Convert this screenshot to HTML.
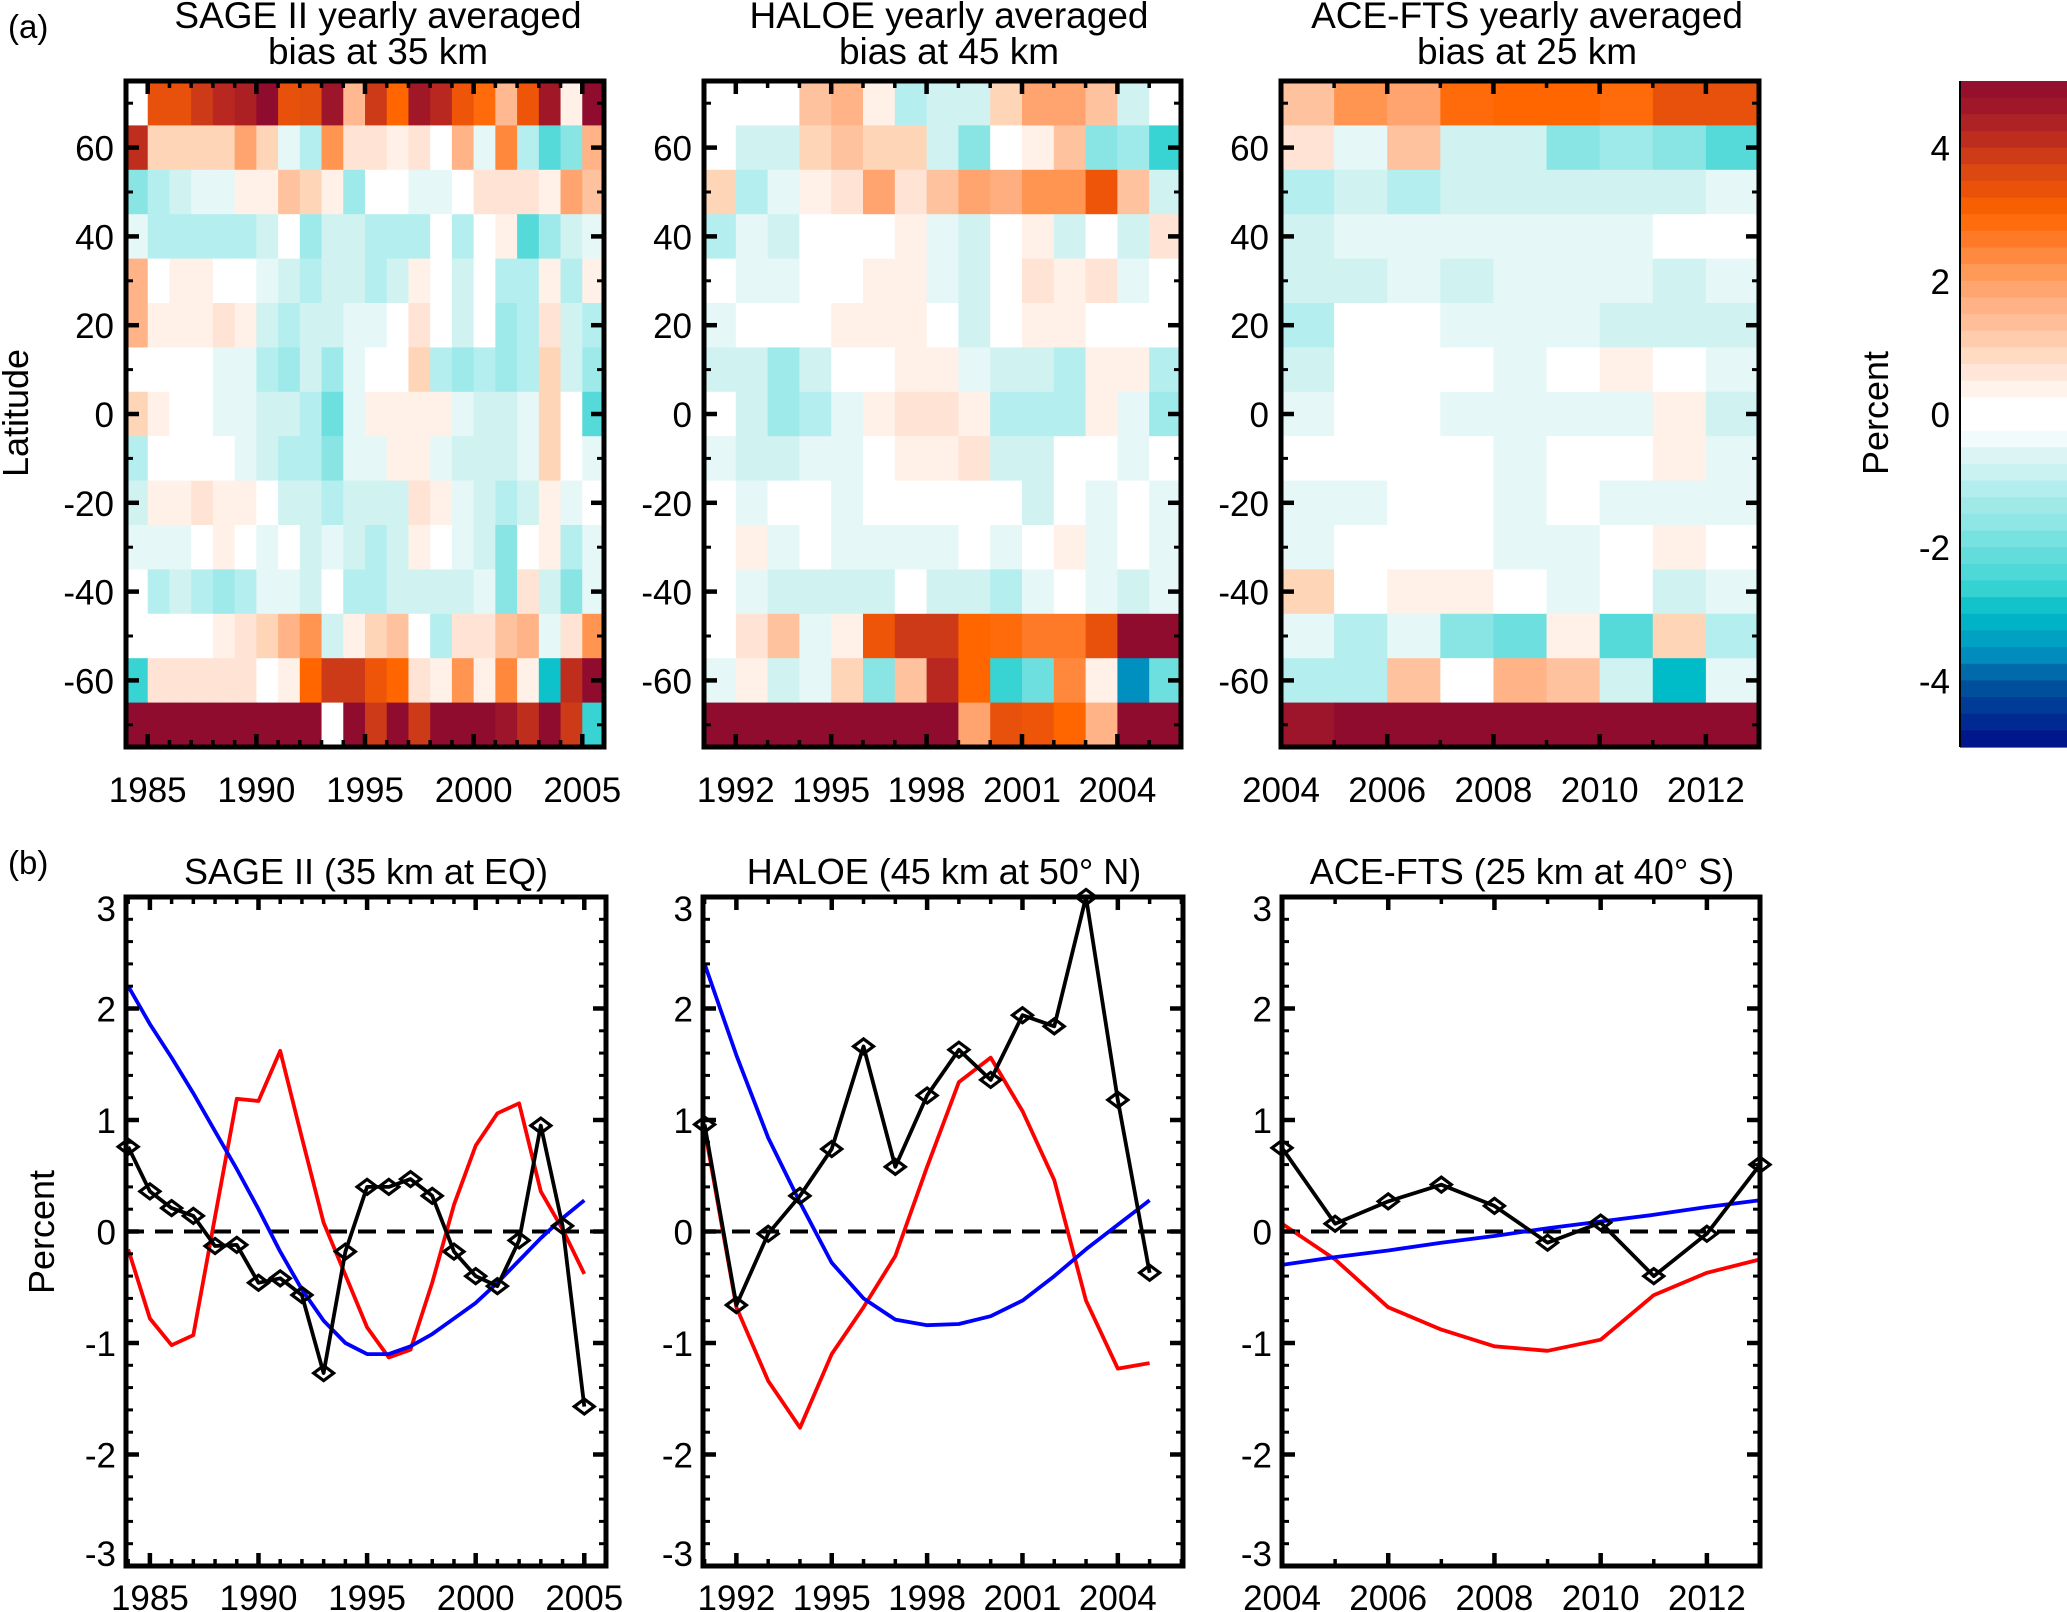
<!DOCTYPE html>
<html><head><meta charset="utf-8"><title>Ozone bias figure</title>
<style>
html,body{margin:0;padding:0;background:#fff;}
svg{display:block;font-family:"Liberation Sans",Arial,sans-serif;}
</style></head>
<body>
<svg id="fig" width="2067" height="1612" viewBox="0 0 2067 1612" xmlns="http://www.w3.org/2000/svg">
<text x="8" y="38" font-size="33">(a)</text>
<text x="8" y="874" font-size="33">(b)</text>
<text x="378" y="28" font-size="37" text-anchor="middle">SAGE II yearly averaged</text>
<text x="378" y="64" font-size="37" text-anchor="middle">bias at 35 km</text>
<text x="949" y="28" font-size="37" text-anchor="middle">HALOE yearly averaged</text>
<text x="949" y="64" font-size="37" text-anchor="middle">bias at 45 km</text>
<text x="1527" y="28" font-size="37" text-anchor="middle">ACE-FTS yearly averaged</text>
<text x="1527" y="64" font-size="37" text-anchor="middle">bias at 25 km</text>
<text transform="translate(28,413) rotate(-90)" font-size="36" text-anchor="middle">Latitude</text>
<text transform="translate(1888,413) rotate(-90)" font-size="36" text-anchor="middle">Percent</text>
<text transform="translate(54,1232) rotate(-90)" font-size="36" text-anchor="middle">Percent</text>
<text x="366" y="884" font-size="36" text-anchor="middle">SAGE II (35 km at EQ)</text>
<text x="944" y="884" font-size="36" text-anchor="middle">HALOE (45 km at 50° N)</text>
<text x="1522" y="884" font-size="36" text-anchor="middle">ACE-FTS (25 km at 40° S)</text>
</svg>
<script>
// ---------- data ----------
const latRows = [70,60,50,40,30,20,10,0,-10,-20,-30,-40,-50,-60,-70];
const latTicks = [60,40,20,0,-20,-40,-60];
const sageYears = [1984,1985,1986,1987,1988,1989,1990,1991,1992,1993,1994,1995,1996,1997,1998,1999,2000,2001,2002,2003,2004,2005];
const haloeYears = [1991,1992,1993,1994,1995,1996,1997,1998,1999,2000,2001,2002,2003,2004,2005];
const aceYears = [2004,2005,2006,2007,2008,2009,2010,2011,2012,2013];
const aceCellYears = [2004,2005,2006,2007,2008,2009,2010,2011,2012];
const sageTicks = [1985,1990,1995,2000,2005];
const haloeTicks = [1992,1995,1998,2001,2004];
const aceTicks = [2004,2006,2008,2010,2012];
const colorbarTicks = [4,2,0,-2,-4];
const percentTicks = [3,2,1,0,-1,-2,-3];

const sageGrid = [
[0,3.4,3.4,3.9,4.2,4.4,5,3.4,3.5,4.7,1.5,3.9,3.0,4.6,4.2,3.3,2.9,1.5,3.3,4.6,0.4,5],
[4.1,1,1,1,1,1.9,1,-0.5,-1.1,2.2,0.7,0.7,0.4,0.7,0,1.6,-0.5,2.4,-1.1,-2.3,-1.7,1.6],
[-1.7,-1.1,-0.8,-0.5,-0.5,0.4,0.4,1.3,1,0.4,-1.4,0,0,-0.5,-0.5,0,0.7,0.7,0.7,0.4,1.9,1.3],
[-0.5,-1.1,-1.1,-1.1,-1.1,-1.1,-0.8,0,-1.4,-0.8,-0.8,-1.1,-1.1,-1.1,0,-1.1,0,0.4,-2.3,-1.4,-0.8,-0.5],
[1.6,0,0.4,0.4,0,0,-0.5,-0.8,-1.1,-0.8,-0.8,-1.1,-0.8,0.4,0,-0.8,0,-1.1,-1.1,0.4,-1.1,0.4],
[1.6,0.4,0.4,0.4,0.7,0.4,-0.8,-1.1,-0.8,-0.8,-0.5,-0.5,0,0.7,0,-0.8,0,-1.4,-1.1,0.7,-0.8,-1.1],
[0,0,0,0,-0.5,-0.5,-1.1,-1.4,-0.8,-1.4,-0.5,0,0,1,-1.1,-1.4,-1.1,-1.4,-1.1,1,-0.8,-1.4],
[1,0.4,0,0,-0.5,-0.5,-0.8,-0.8,-1.1,-2,-0.5,0.4,0.4,0.4,0.4,-0.5,-0.8,-0.8,-0.5,1,0,-2.3],
[-1.1,0,0,0,0,-0.5,-0.8,-1.1,-1.1,-1.7,-0.5,-0.5,0.4,0.4,-0.5,-0.8,-0.8,-0.8,-0.5,1,0,-0.5],
[-0.8,0.4,0.4,0.7,0.4,0.4,0,-0.8,-0.8,-1.1,-0.8,-0.8,-0.8,0.7,0.4,-0.5,-0.8,-1.1,-0.8,0.4,-0.5,0],
[-0.5,-0.5,-0.5,0,0.4,0,-0.5,0,-0.8,-0.5,-0.8,-1.1,-0.8,0.4,0,-0.5,-0.8,-1.7,0,0.4,-1.1,-0.5],
[0,-1.1,-0.8,-1.1,-1.4,-1.1,-0.5,-0.5,-0.8,0,-1.1,-1.1,-0.8,-0.8,-0.8,-0.8,-0.5,-1.7,0.7,-0.8,-1.7,-0.5],
[0,0,0,0,0.4,0.7,1,1.6,2.2,-0.8,0.4,1,1.3,0,-1.1,0.7,0.7,1.3,1.6,-0.5,0.7,2.2],
[-2.6,0.7,0.7,0.7,0.7,0.7,0,0.4,3,3.9,3.9,3.3,3,0.7,0.4,2.2,0.4,2.4,0.4,-2.9,4.1,5],
[5,5,5,5,5,5,5,5,5,0,5,3.9,5,3.9,5,5,5,4.7,4.1,5,3.9,-2.6]
];
const haloeGrid = [
[0,0,0,1.3,1.6,0.4,-1.1,-0.8,-0.8,1,1.9,1.9,1.3,-0.8,0],
[0,-0.8,-0.8,1,1.3,1,1,-0.8,-1.7,0,0.4,1.3,-1.7,-1.4,-2.6],
[1,-1.1,-0.5,0.4,0.7,1.9,0.7,1.3,1.9,1.7,2.2,2.2,3.3,1.3,-0.8],
[-1.1,-0.5,-0.8,0,0,0,0.4,-0.5,-0.8,0,0.4,-0.8,0,-0.8,0.7],
[0,-0.5,-0.5,0,0,0.4,0.4,-0.5,-0.8,0,0.7,0.4,0.7,-0.5,0],
[-0.5,0,0,0,0.4,0.4,0.4,0,-0.8,0,0.4,0.4,0,0,0],
[-0.8,-0.8,-1.4,-0.8,0,0,0.4,0.4,-0.5,-0.8,-0.8,-1.1,0.4,0.4,-1.1],
[0,-0.8,-1.4,-1.1,-0.5,0.4,0.7,0.7,0.4,-1.1,-1.1,-1.1,0.4,-0.5,-1.4],
[-0.5,-0.8,-0.8,-0.5,-0.5,0,0.4,0.4,0.7,-0.8,-0.8,0,0,-0.5,0],
[0,-0.5,0,0,-0.5,0,0,0,0,0,-0.8,0,-0.5,0,-0.5],
[0,0.4,-0.5,0,-0.5,-0.5,-0.5,-0.5,0,-0.5,0,0.4,-0.5,0,-0.5],
[0,-0.5,-0.8,-0.8,-0.8,-0.8,0,-0.8,-0.8,-1.1,-0.5,0,-0.5,-0.8,-0.5],
[0,0.7,1.3,-0.5,0.4,3.3,3.9,3.9,3,2.9,2.6,2.6,3.4,5,5],
[-0.5,0.4,-0.8,-0.5,1,-1.7,1.3,4.2,3,-2.6,-2,2.4,0.4,-3.6,-2],
[5,5,5,5,5,5,5,5,1.9,3.4,3.3,3,1.6,5,5]
];
const aceGrid = [
[1.3,2.2,1.9,2.9,3,3,2.9,3.4,3.4],
[0.7,-0.5,1.3,-0.8,-0.8,-1.7,-1.4,-1.7,-2.3],
[-1.1,-0.8,-1.1,-0.8,-0.8,-0.8,-0.8,-0.8,-0.5],
[-0.8,-0.5,-0.5,-0.5,-0.5,-0.5,-0.5,0,0],
[-0.8,-0.8,-0.5,-0.8,-0.5,-0.5,-0.5,-0.8,-0.5],
[-1.1,0,0,-0.5,-0.5,-0.5,-0.8,-0.8,-0.8],
[-0.8,0,0,0,-0.5,0,0.4,0,-0.5],
[-0.5,0,0,-0.5,-0.5,-0.5,-0.5,0.4,-0.8],
[0,0,0,0,-0.5,0,0,0.4,-0.5],
[-0.5,-0.5,0,0,-0.5,0,-0.5,-0.5,-0.5],
[-0.5,0,0,0,-0.5,-0.5,0,0.4,0],
[1,0,0.4,0.4,0,-0.5,0,-0.8,-0.5],
[-0.5,-1.1,-0.5,-1.7,-2,0.4,-2.3,1,-1.1],
[-1.1,-1.1,1.3,0,1.6,1.3,-0.8,-3,-0.5],
[4.7,5,5,5,5,5,5,5,5]
];

const sageBlack = [0.76,0.36,0.21,0.14,-0.13,-0.12,-0.46,-0.42,-0.57,-1.27,-0.18,0.40,0.40,0.47,0.32,-0.18,-0.40,-0.49,-0.08,0.95,0.05,-1.57];
const sageRed = [-0.16,-0.78,-1.02,-0.93,0.13,1.19,1.17,1.62,0.84,0.08,-0.39,-0.86,-1.13,-1.06,-0.46,0.24,0.77,1.06,1.15,0.36,0.02,-0.38];
const sageBlue = [2.2,1.86,1.56,1.24,0.9,0.56,0.2,-0.18,-0.52,-0.8,-1.0,-1.1,-1.1,-1.03,-0.92,-0.78,-0.64,-0.46,-0.26,-0.06,0.12,0.28];
const haloeBlack = [0.96,-0.66,-0.02,0.32,0.74,1.66,0.58,1.22,1.63,1.36,1.94,1.84,3.0,1.18,-0.37];
const haloeRed = [0.92,-0.68,-1.34,-1.76,-1.1,-0.68,-0.22,0.58,1.34,1.56,1.08,0.46,-0.62,-1.23,-1.18];
const haloeBlue = [2.4,1.58,0.84,0.26,-0.28,-0.6,-0.79,-0.84,-0.83,-0.76,-0.62,-0.4,-0.16,0.06,0.28];
const aceBlack = [0.75,0.07,0.27,0.42,0.23,-0.1,0.08,-0.4,-0.02,0.6];
const aceRed = [0.07,-0.25,-0.68,-0.88,-1.03,-1.07,-0.97,-0.57,-0.37,-0.25];
const aceBlue = [-0.3,-0.23,-0.17,-0.1,-0.04,0.03,0.09,0.15,0.22,0.28];

// ---------- helpers ----------
const NS = "http://www.w3.org/2000/svg";
const svg = document.getElementById('fig');
function mk(tag, attrs, parent) {
  const e = document.createElementNS(NS, tag);
  for (const k in attrs) e.setAttribute(k, attrs[k]);
  (parent || svg).appendChild(e);
  return e;
}
const anchors = [
[-5,'#000c88'],[-4,'#0058a0'],[-3.6,'#0090c0'],[-3,'#00bcc8'],[-2.6,'#38d3d3'],[-2.3,'#55d9d9'],[-2,'#6ddfde'],
[-1.7,'#88e5e4'],[-1.4,'#9ee9e9'],[-1.1,'#b5eeee'],[-0.8,'#d0f3f2'],[-0.5,'#e5f7f6'],[-0.25,'#ffffff'],
[0.25,'#ffffff'],[0.4,'#fff0e8'],[0.7,'#ffe3d4'],[1,'#ffd5b8'],[1.3,'#ffc29e'],[1.6,'#ffb387'],[1.9,'#ffa46e'],
[2.2,'#ff9550'],[2.6,'#ff7a28'],[3,'#ff6600'],[3.3,'#ee5508'],[3.6,'#dc4a10'],[3.9,'#cc3a18'],[4.2,'#b82820'],
[4.6,'#a01828'],[5,'#900c2e']];
function hex(h){return [parseInt(h.substr(1,2),16),parseInt(h.substr(3,2),16),parseInt(h.substr(5,2),16)];}
function colorOf(v) {
  v = Math.max(-5, Math.min(5, v));
  for (let i = 0; i < anchors.length - 1; i++) {
    const a = anchors[i], b = anchors[i+1];
    if (v >= a[0] && v <= b[0]) {
      const t = (v - a[0]) / (b[0] - a[0] || 1);
      const ca = hex(a[1]), cb = hex(b[1]);
      return 'rgb(' + ca.map((c,j)=>Math.round(c + (cb[j]-c)*t)).join(',') + ')';
    }
  }
  return anchors[anchors.length-1][1];
}
function linear(d0, d1, r0, r1) { return v => r0 + (v - d0) / (d1 - d0) * (r1 - r0); }

function frameTicks(g, L, R, T, B, xs, xMinor, ys, yMinor, x, y) {
  xs.forEach(v => { const px = x(v);
    mk('line',{x1:px,x2:px,y1:B,y2:B-13,stroke:'#000','stroke-width':4.5},g);
    mk('line',{x1:px,x2:px,y1:T,y2:T+13,stroke:'#000','stroke-width':4.5},g); });
  xMinor.forEach(v => { const px = x(v);
    mk('line',{x1:px,x2:px,y1:B,y2:B-7,stroke:'#000','stroke-width':3.5},g);
    mk('line',{x1:px,x2:px,y1:T,y2:T+7,stroke:'#000','stroke-width':3.5},g); });
  ys.forEach(v => { const py = y(v);
    mk('line',{x1:L,x2:L+13,y1:py,y2:py,stroke:'#000','stroke-width':4.5},g);
    mk('line',{x1:R,x2:R-13,y1:py,y2:py,stroke:'#000','stroke-width':4.5},g); });
  yMinor.forEach(v => { const py = y(v);
    mk('line',{x1:L,x2:L+7,y1:py,y2:py,stroke:'#000','stroke-width':3},g);
    mk('line',{x1:R,x2:R-7,y1:py,y2:py,stroke:'#000','stroke-width':3},g); });
  mk('rect',{x:L,y:T,width:R-L,height:B-T,fill:'none',stroke:'#000','stroke-width':5},g);
}

// ---------- heatmaps ----------
function heatmap(name, L, R, d0, d1, cellYears, grid, ticks) {
  const T = 81, B = 747;
  const g = mk('g', {});
  
  
  const x = linear(d0, d1, L, R);
  const y = linear(75, -75, T, B);
  grid.forEach((row, ri) => {
    row.forEach((v, ci) => {
      const yr = cellYears[ci], lat = latRows[ri];
      const x0 = x(yr), x1 = x(yr + 1), y0 = y(lat + 5), y1 = y(lat - 5);
      const c = mk('rect', {x:x0, y:y0, width:x1-x0+0.6, height:y1-y0+0.6, fill:colorOf(v)}, g);
      
      
    });
  });
  const minorX = []; for (let yv = Math.ceil(d0); yv <= d1; yv++) if (!ticks.includes(yv)) minorX.push(yv);
  const minorY = [70,50,30,10,-10,-30,-50,-70];
  frameTicks(g, L, R, T, B, ticks, minorX, latTicks, minorY, x, y);
  latTicks.forEach(v => {
    const t = mk('text', {x:L-12, y:y(v)+13, 'font-size':35, 'text-anchor':'end'}, g);
    t.textContent = v;
    
    
  });
  ticks.forEach(v => {
    const t = mk('text', {x:x(v), y:802, 'font-size':35, 'text-anchor':'middle'}, g);
    t.textContent = v;
    
    
  });
}
heatmap('sage-heatmap', 126, 604, 1984, 2006, sageYears, sageGrid, sageTicks);
heatmap('haloe-heatmap', 704, 1181, 1991, 2006, haloeYears, haloeGrid, haloeTicks);
heatmap('ace-heatmap', 1281, 1759, 2004, 2013, aceCellYears, aceGrid, aceTicks);

// ---------- colorbar ----------
(function(){
  const g = mk('g', {});
  
  
  const T = 81, B = 747, L = 1960;
  const y = linear(5, -5, T, B);
  for (let i = 0; i < 40; i++) {
    const v0 = 5 - i * 0.25, v1 = v0 - 0.25;
    const r = mk('rect', {x:L, y:y(v0), width:120, height:y(v1)-y(v0)+0.6, fill:colorOf((v0+v1)/2)}, g);
    
    
  }
  mk('line', {x1:L, x2:L, y1:T, y2:B, stroke:'#000', 'stroke-width':2}, g);
  colorbarTicks.forEach(v => {
    const t = mk('text', {x:1950, y:y(v)+13, 'font-size':35, 'text-anchor':'end'}, g);
    t.textContent = v;
    
    
  });
})();

// ---------- line charts ----------
function lineChart(name, L, R, d0, d1, years, black, red, blue, ticks) {
  const T = 897, B = 1566;
  const g = mk('g', {});
  
  
  const x = linear(d0, d1, L, R);
  const y = linear(3, -3, T, B);
  mk('line', {x1:L, x2:R, y1:y(0), y2:y(0), stroke:'#000', 'stroke-width':4, 'stroke-dasharray':'18 11'}, g);
  function path(vals, color, nm) {
    const d = vals.map((v,i) => (i ? 'L' : 'M') + x(years[i]).toFixed(1) + ',' + y(v).toFixed(1)).join(' ');
    const p = mk('path', {d:d, fill:'none', stroke:color, 'stroke-width':3.8, 'stroke-linejoin':'round'}, g);
    
    
  }
  path(red, '#ff0000', 'red-series-line');
  path(blue, '#0000ff', 'blue-series-line');
  path(black, '#000000', 'black-series-line');
  black.forEach((v, i) => {
    const cx = x(years[i]), cy = y(v), s = 10;
    const m = mk('path', {d:`M${cx-s},${cy} L${cx},${cy-s*0.75} L${cx+s},${cy} L${cx},${cy+s*0.75} Z`, fill:'none', stroke:'#000', 'stroke-width':3.2}, g);
    
    
  });
  const minorX = []; for (let yv = Math.ceil(d0); yv <= d1; yv++) if (!ticks.includes(yv)) minorX.push(yv);
  const minorY = []; for (let k = -30; k <= 30; k += 2) if (k % 10) minorY.push(k / 10);
  frameTicks(g, L, R, T, B, ticks, minorX, percentTicks, minorY, x, y);
  percentTicks.forEach(v => {
    const py = Math.max(T + 11, Math.min(B - 13, y(v)));
    const t = mk('text', {x:L-10, y:py+13, 'font-size':35, 'text-anchor':'end'}, g);
    t.textContent = v;
    
    
  });
  ticks.forEach(v => {
    const t = mk('text', {x:x(v), y:1610, 'font-size':35, 'text-anchor':'middle'}, g);
    t.textContent = v;
    
    
  });
}
lineChart('sage-line-chart', 126, 606, 1983.9, 2006, sageYears, sageBlack, sageRed, sageBlue, sageTicks);
lineChart('haloe-line-chart', 703, 1183, 1990.95, 2006.05, haloeYears, haloeBlack, haloeRed, haloeBlue, haloeTicks);
lineChart('ace-line-chart', 1282, 1760, 2004, 2013, aceYears, aceBlack, aceRed, aceBlue, aceTicks);
</script>
</body></html>
